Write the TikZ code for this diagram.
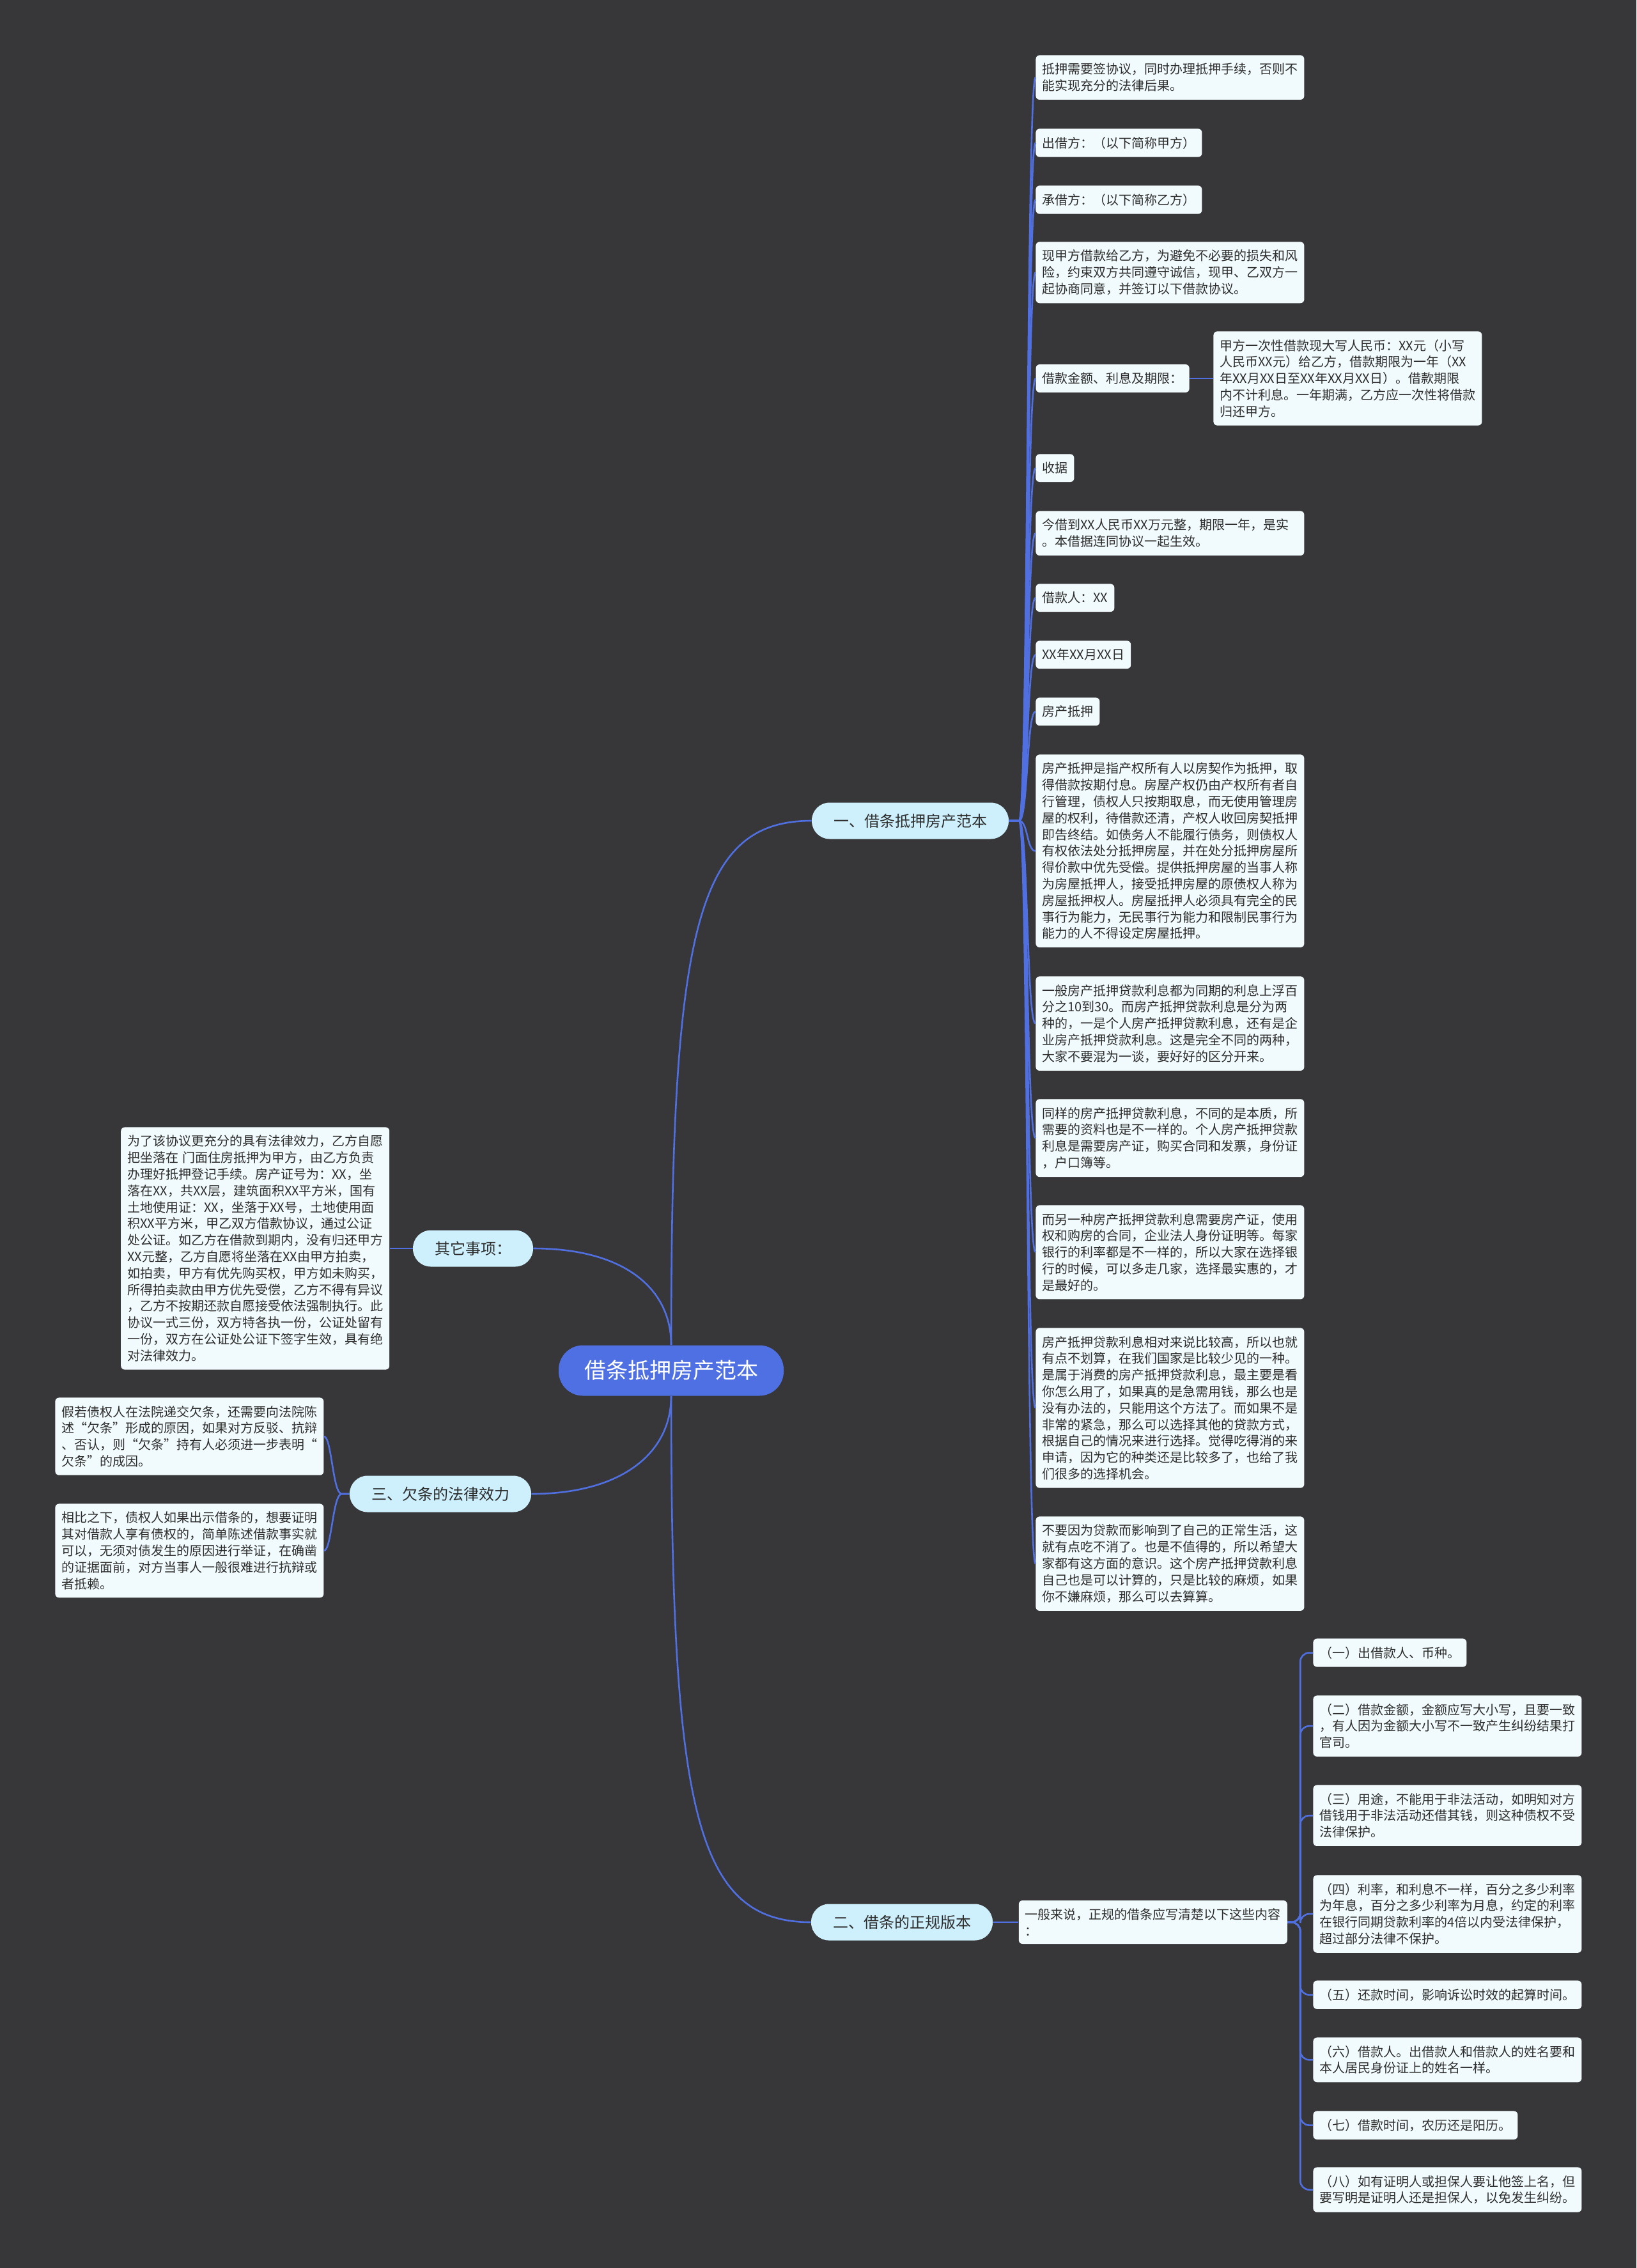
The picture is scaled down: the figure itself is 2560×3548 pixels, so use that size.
\documentclass[tikz,border=0pt]{standalone}
\usepackage{fontspec}
\setmainfont{Noto Sans CJK SC}
\usepackage{tikz}
\usetikzlibrary{positioning}
\definecolor{bgdark}   {RGB}{ 55, 54, 56}
\definecolor{linkblue} {RGB}{ 80,112,226}
\definecolor{rootblue} {RGB}{ 78,112,226}
\definecolor{topicfill}{RGB}{205,240,252}
\definecolor{leaffill} {RGB}{241,251,253}
\definecolor{inkdark}  {RGB}{ 45, 45, 45}
\tikzset{
  hub/.style  ={rectangle,fill=rootblue,rounded corners=19pt,
                 minimum height=39.5pt,inner xsep=20pt,
                 text=white,font=\fontsize{17pt}{20pt}\selectfont},
  br/.style   ={rectangle,fill=topicfill,rounded corners=14pt,
                 minimum height=28.5pt,inner xsep=17pt,
                 text=inkdark,font=\fontsize{12pt}{14pt}\selectfont},
  lf/.style   ={rectangle,fill=leaffill,rounded corners=3pt,
                 inner xsep=5pt,inner ysep=6.3pt,text=inkdark,
                 font=\fontsize{10pt}{12.9pt}\selectfont},
  lfw/.style  ={lf,text width=200pt,align=left},
  ln/.style   ={draw=linkblue,line width=1.3pt},
}

\begin{document}
\begin{tikzpicture}[x=0.5pt,y=-0.5pt]
  \fill[bgdark] (0,0) rectangle (2560,3548);
  \useasboundingbox (0,0) rectangle (2560,3548);
  % centre and branches
  \node[hub] (hub)   at (1050,2144) {借条抵押房产范本};
  \node[br]  (one)   at (1424,1284) {一、借条抵押房产范本};
  \node[br]  (two)   at (1411,3007) {二、借条的正规版本};
  \node[br]  (oth)   at (740,1953)  {其它事项：};
  \node[br]  (three) at (689,2337)  {三、欠条的法律效力};
  % branch one leaves
  \node[lfw,anchor=north west] (b1) at (1620,86)
    {抵押需要签协议，同时办理抵押手续，否则不\\能实现充分的法律后果。};
  \node[lf,anchor=north west]  (b2) at (1620,201) {出借方：（以下简称甲方）};
  \node[lf,anchor=north west]  (b3) at (1620,290) {承借方：（以下简称乙方）};
  \node[lfw,anchor=north west] (b4) at (1620,378)
    {现甲方借款给乙方，为避免不必要的损失和风\\险，约束双方共同遵守诚信，现甲、乙双方一\\起协商同意，并签订以下借款协议。};
  \node[lfw,anchor=north west] (b5c) at (1898,518)
    {甲方一次性借款现大写人民币：XX元（小写\\人民币XX元）给乙方，借款期限为一年（XX\\年XX月XX日至XX年XX月XX日）。借款期限\\内不计利息。一年期满，乙方应一次性将借款\\归还甲方。};
  \node[lf,left=18.5pt of b5c] (b5) {借款金额、利息及期限：};
  \node[lf,anchor=north west]  (b6) at (1620,710) {收据};
  \node[lfw,anchor=north west] (b7) at (1620,799)
    {今借到XX人民币XX万元整，期限一年，是实\\。本借据连同协议一起生效。};
  \node[lf,anchor=north west]  (b8) at (1620,913) {借款人：XX};
  \node[lf,anchor=north west]  (b9) at (1620,1002) {XX年XX月XX日};
  \node[lf,anchor=north west]  (b10) at (1620,1091) {房产抵押};
  \node[lfw,anchor=north west] (b11) at (1620,1180)
    {房产抵押是指产权所有人以房契作为抵押，取\\得借款按期付息。房屋产权仍由产权所有者自\\行管理，债权人只按期取息，而无使用管理房\\屋的权利，待借款还清，产权人收回房契抵押\\即告终结。如债务人不能履行债务，则债权人\\有权依法处分抵押房屋，并在处分抵押房屋所\\得价款中优先受偿。提供抵押房屋的当事人称\\为房屋抵押人，接受抵押房屋的原债权人称为\\房屋抵押权人。房屋抵押人必须具有完全的民\\事行为能力，无民事行为能力和限制民事行为\\能力的人不得设定房屋抵押。};
  \node[lfw,anchor=north west] (b12) at (1620,1527)
    {一般房产抵押贷款利息都为同期的利息上浮百\\分之10到30。而房产抵押贷款利息是分为两\\种的，一是个人房产抵押贷款利息，还有是企\\业房产抵押贷款利息。这是完全不同的两种，\\大家不要混为一谈，要好好的区分开来。};
  \node[lfw,anchor=north west] (b13) at (1620,1719)
    {同样的房产抵押贷款利息，不同的是本质，所\\需要的资料也是不一样的。个人房产抵押贷款\\利息是需要房产证，购买合同和发票，身份证\\，户口簿等。};
  \node[lfw,anchor=north west] (b14) at (1620,1885)
    {而另一种房产抵押贷款利息需要房产证，使用\\权和购房的合同，企业法人身份证明等。每家\\银行的利率都是不一样的，所以大家在选择银\\行的时候，可以多走几家，选择最实惠的，才\\是最好的。};
  \node[lfw,anchor=north west] (b15) at (1620,2077)
    {房产抵押贷款利息相对来说比较高，所以也就\\有点不划算，在我们国家是比较少见的一种。\\是属于消费的房产抵押贷款利息，最主要是看\\你怎么用了，如果真的是急需用钱，那么也是\\没有办法的，只能用这个方法了。而如果不是\\非常的紧急，那么可以选择其他的贷款方式，\\根据自己的情况来进行选择。觉得吃得消的来\\申请，因为它的种类还是比较多了，也给了我\\们很多的选择机会。};
  \node[lfw,anchor=north west] (b16) at (1620,2372)
    {不要因为贷款而影响到了自己的正常生活，这\\就有点吃不消了。也是不值得的，所以希望大\\家都有这方面的意识。这个房产抵押贷款利息\\自己也是可以计算的，只是比较的麻烦，如果\\你不嫌麻烦，那么可以去算算。};
  % branch two leaves
  \node[lfw,right=20pt of two] (gen)
    {一般来说，正规的借条应写清楚以下这些内容\\：};
  \node[lf,anchor=north west]  (c1) at (2054,2563) {（一）出借款人、币种。};
  \node[lfw,anchor=north west] (c2) at (2054,2652)
    {（二）借款金额，金额应写大小写，且要一致\\，有人因为金额大小写不一致产生纠纷结果打\\官司。};
  \node[lfw,anchor=north west] (c3) at (2054,2792)
    {（三）用途，不能用于非法活动，如明知对方\\借钱用于非法活动还借其钱，则这种债权不受\\法律保护。};
  \node[lfw,anchor=north west] (c4) at (2054,2933)
    {（四）利率，和利息不一样，百分之多少利率\\为年息，百分之多少利率为月息，约定的利率\\在银行同期贷款利率的4倍以内受法律保护，\\超过部分法律不保护。};
  \node[lf,anchor=north west]  (c5) at (2054,3098) {（五）还款时间，影响诉讼时效的起算时间。};
  \node[lfw,anchor=north west] (c6) at (2054,3187)
    {（六）借款人。出借款人和借款人的姓名要和\\本人居民身份证上的姓名一样。};
  \node[lf,anchor=north west]  (c7) at (2054,3302) {（七）借款时间，农历还是阳历。};
  \node[lfw,anchor=north west] (c8) at (2054,3390)
    {（八）如有证明人或担保人要让他签上名，但\\要写明是证明人还是担保人，以免发生纠纷。};
  % left side leaves
  \node[lfw,left=18pt of oth] (o1)
    {为了该协议更充分的具有法律效力，乙方自愿\\把坐落在~门面住房抵押为甲方，由乙方负责\\办理好抵押登记手续。房产证号为：XX，坐\\落在XX，共XX层，建筑面积XX平方米，国有\\土地使用证：XX，坐落于XX号，土地使用面\\积XX平方米，甲乙双方借款协议，通过公证\\处公证。如乙方在借款到期内，没有归还甲方\\XX元整，乙方自愿将坐落在XX由甲方拍卖，\\如拍卖，甲方有优先购买权，甲方如未购买，\\所得拍卖款由甲方优先受偿，乙方不得有异议\\，乙方不按期还款自愿接受依法强制执行。此\\协议一式三份，双方特各执一份，公证处留有\\一份，双方在公证处公证下签字生效，具有绝\\对法律效力。};
  \node[lfw,anchor=north west] (t1) at (86,2186)
    {假若债权人在法院递交欠条，还需要向法院陈\\述“欠条”形成的原因，如果对方反驳、抗辩\\、否认，则“欠条”持有人必须进一步表明“\\欠条”的成因。};
  \node[lfw,anchor=north west] (t2) at (86,2352)
    {相比之下，债权人如果出示借条的，想要证明\\其对借款人享有债权的，简单陈述借款事实就\\可以，无须对债发生的原因进行举证，在确凿\\的证据面前，对方当事人一般很难进行抗辩或\\者抵赖。};
  % centre -> branches
  \draw[ln] (hub.north) .. controls +(0,-650) and +(-180,0) .. (one.west);
  \draw[ln] (hub.south) .. controls +(0,650) and +(-180,0) .. (two.west);
  \draw[ln] (hub.north) .. controls +(0,-90) and +(140,0) .. (oth.east);
  \draw[ln] (hub.south) .. controls +(0,90) and +(140,0) .. (three.east);
  % branch one -> leaves
  \draw[ln] (one.east) -- ++(16,0) .. controls +(14,0) and +(-14,0) .. (b1.west);
  \draw[ln] (one.east) -- ++(16,0) .. controls +(14,0) and +(-14,0) .. (b2.west);
  \draw[ln] (one.east) -- ++(16,0) .. controls +(14,0) and +(-14,0) .. (b3.west);
  \draw[ln] (one.east) -- ++(16,0) .. controls +(14,0) and +(-14,0) .. (b4.west);
  \draw[ln] (one.east) -- ++(16,0) .. controls +(14,0) and +(-14,0) .. (b5.west);
  \draw[ln] (one.east) -- ++(16,0) .. controls +(14,0) and +(-14,0) .. (b6.west);
  \draw[ln] (one.east) -- ++(16,0) .. controls +(14,0) and +(-14,0) .. (b7.west);
  \draw[ln] (one.east) -- ++(16,0) .. controls +(14,0) and +(-14,0) .. (b8.west);
  \draw[ln] (one.east) -- ++(16,0) .. controls +(14,0) and +(-14,0) .. (b9.west);
  \draw[ln] (one.east) -- ++(16,0) .. controls +(14,0) and +(-14,0) .. (b10.west);
  \draw[ln] (one.east) -- ++(16,0) .. controls +(14,0) and +(-14,0) .. (b11.west);
  \draw[ln] (one.east) -- ++(16,0) .. controls +(14,0) and +(-14,0) .. (b12.west);
  \draw[ln] (one.east) -- ++(16,0) .. controls +(14,0) and +(-14,0) .. (b13.west);
  \draw[ln] (one.east) -- ++(16,0) .. controls +(14,0) and +(-14,0) .. (b14.west);
  \draw[ln] (one.east) -- ++(16,0) .. controls +(14,0) and +(-14,0) .. (b15.west);
  \draw[ln] (one.east) -- ++(16,0) .. controls +(14,0) and +(-14,0) .. (b16.west);
  % amount -> terms
  \draw[ln] (b5.east) -- (b5c.west);
  % branch two -> items
  \draw[ln] (two.east) -- (gen.west);
  \draw[ln,rounded corners=7pt] (gen.east) -- ++(20,0) |- (c1.west);
  \draw[ln,rounded corners=7pt] (gen.east) -- ++(20,0) |- (c2.west);
  \draw[ln,rounded corners=7pt] (gen.east) -- ++(20,0) |- (c3.west);
  \draw[ln,rounded corners=7pt] (gen.east) -- ++(20,0) |- (c4.west);
  \draw[ln,rounded corners=7pt] (gen.east) -- ++(20,0) |- (c5.west);
  \draw[ln,rounded corners=7pt] (gen.east) -- ++(20,0) |- (c6.west);
  \draw[ln,rounded corners=7pt] (gen.east) -- ++(20,0) |- (c7.west);
  \draw[ln,rounded corners=7pt] (gen.east) -- ++(20,0) |- (c8.west);
  % left branches -> leaves
  \draw[ln] (oth.west) -- (o1.east);
  \draw[ln] (three.west) -- ++(-12,0) .. controls +(-14,0) and +(12,0) .. (t1.east);
  \draw[ln] (three.west) -- ++(-12,0) .. controls +(-14,0) and +(12,0) .. (t2.east);
\end{tikzpicture}
\end{document}
